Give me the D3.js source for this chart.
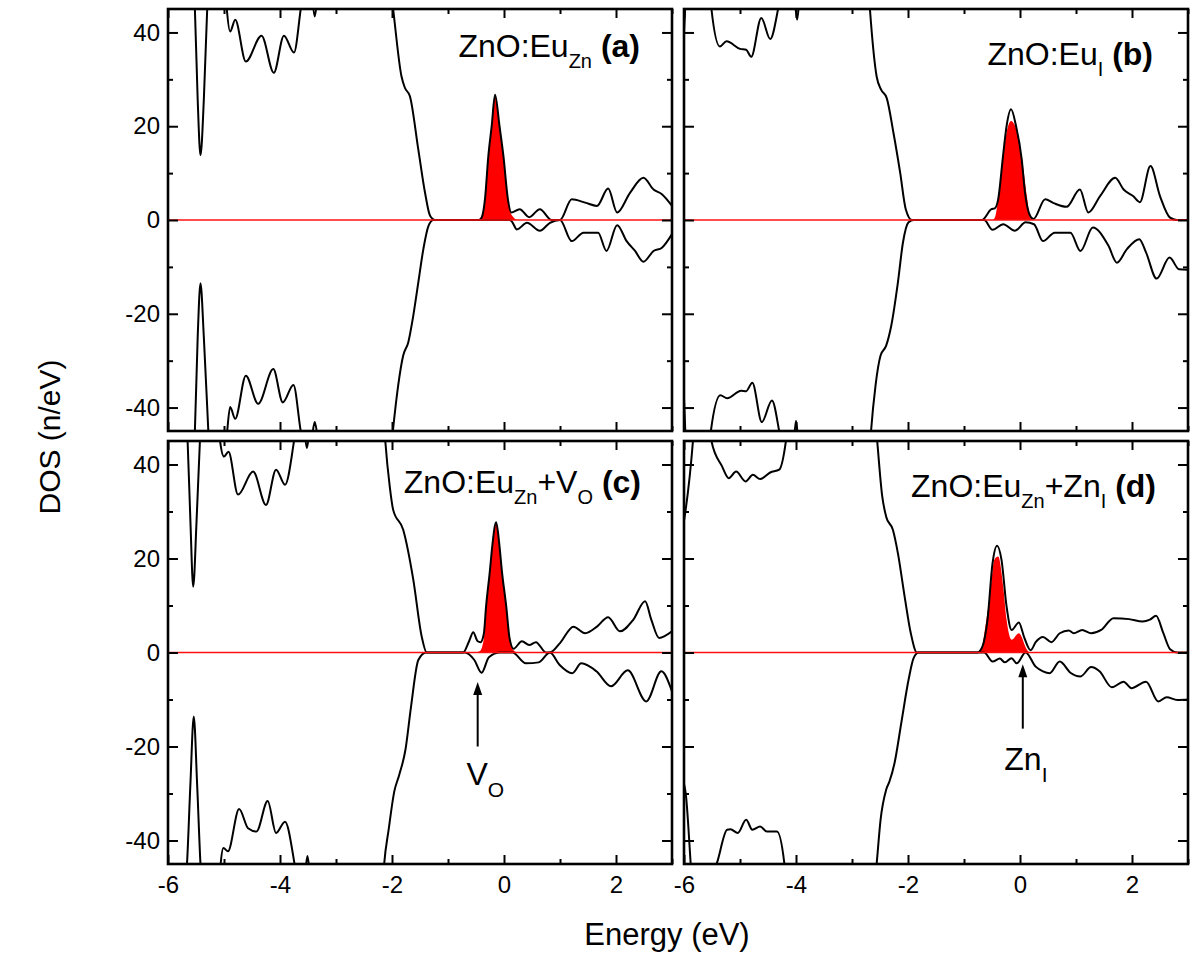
<!DOCTYPE html>
<html><head><meta charset="utf-8">
<script src="https://cdn.jsdelivr.net/npm/d3@7"></script>
<style>
body{margin:0;background:#fff}
text{font-family:"Liberation Sans",Arial,sans-serif;fill:#000}
</style>
</head><body>
<svg id="chart" width="1200" height="960"></svg>
<script>
// ---------- data ----------
const xMajorTicks = [-6, -4, -2, 0, 2];
const xMinorTicks = [-5, -3, -1, 1, 3];
const yMajorTicks = [-40, -20, 0, 20, 40];
const yMinorTicks = [-30, -10, 10, 30];
const xDomain = [-6, 3];
const yDomain = [-45, 45];
const xTitle = "Energy (eV)";
const yTitle = "DOS (n/eV)";

// panel (a) ZnO:Eu_Zn
const aUp = [[-6,60],[-5.6,60],[-5.55,52],[-5.52,45],[-5.47,25.7],[-5.42,13.8],[-5.36,25.7],[-5.30,45],[-5.27,52],[-5.1,60],[-4.98,50],[-4.95,45],[-4.89,40.2],[-4.80,42.7],[-4.61,33.8],[-4.33,39.3],[-4.11,31.4],[-3.93,39.3],[-3.75,35.7],[-3.63,45],[-3.55,52],[-3.45,50],[-3.38,43.4],[-3.31,50],[-3.1,60],[-2.2,60],[-2.05,52],[-1.98,45],[-1.83,30.6],[-1.77,28.2],[-1.68,26.4],[-1.53,15.0],[-1.41,5.8],[-1.32,0.9],[-1.23,0],[-0.45,0],[-0.40,0.5],[-0.34,4.4],[-0.28,13.6],[-0.22,20],[-0.16,26.7],[-0.08,20],[-0.01,13.6],[0.07,4.4],[0.13,1.6],[0.28,2.3],[0.45,0.6],[0.64,2.3],[0.85,0],[1.0,0],[1.21,4.4],[1.45,3.7],[1.66,3.0],[1.86,6.7],[2.02,1.6],[2.25,5.8],[2.49,9.0],[2.67,6.5],[2.82,5.5],[3.0,3.0]];
const aDown = [[-6,-60],[-5.6,-60],[-5.55,-52],[-5.52,-45],[-5.47,-25],[-5.42,-13.5],[-5.36,-25],[-5.28,-45],[-5.25,-52],[-5.1,-60],[-4.98,-50],[-4.95,-46],[-4.89,-39.9],[-4.80,-42.4],[-4.61,-33.2],[-4.39,-39.2],[-4.12,-31.8],[-3.95,-38.9],[-3.76,-35.2],[-3.63,-45],[-3.55,-50],[-3.45,-48],[-3.38,-43.1],[-3.31,-48],[-3.0,-60],[-2.1,-60],[-1.98,-44.5],[-1.89,-35.3],[-1.80,-28.9],[-1.71,-26.1],[-1.62,-20.4],[-1.53,-13.3],[-1.44,-6.2],[-1.35,-1.3],[-1.26,0],[0.1,0],[0.14,-0.3],[0.23,-2.0],[0.41,-0.6],[0.64,-2.3],[0.82,-0.6],[1.0,0],[1.21,-4.5],[1.42,-2.7],[1.68,-2.7],[1.83,-6.6],[2.02,-1.1],[2.19,-4.5],[2.34,-6.6],[2.49,-8.9],[2.67,-6.6],[2.82,-5.9],[3.0,-3.0]];
const aEu = [[-6,0],[-0.50,0],[-0.43,0.3],[-0.34,4.4],[-0.28,13.6],[-0.22,20],[-0.16,26.7],[-0.08,20],[-0.01,13.6],[0.07,4.4],[0.14,1],[0.25,0],[3,0]];

// panel (b) ZnO:Eu_I
const bUp = [[-6,40],[-5.96,50],[-5.9,60],[-5.6,60],[-5.51,45],[-5.36,37.0],[-5.24,38.1],[-5.0,36.5],[-4.89,36.3],[-4.80,34.8],[-4.62,43.1],[-4.46,38.6],[-4.32,45],[-4.22,52],[-4.05,50],[-3.98,42.7],[-3.92,50],[-3.8,60],[-2.9,60],[-2.72,52],[-2.68,45],[-2.56,30.6],[-2.48,27.8],[-2.38,26.0],[-2.26,18.6],[-2.14,10.1],[-2.04,2.3],[-1.93,0],[-0.68,0],[-0.51,2.3],[-0.45,2.5],[-0.39,4.4],[-0.30,14],[-0.24,20],[-0.16,23.6],[-0.07,20],[0.03,13],[0.09,5.8],[0.18,0.9],[0.24,0.2],[0.45,4.4],[0.60,3.6],[0.83,2.8],[1.07,6.5],[1.22,1.6],[1.43,5.1],[1.70,9.0],[1.85,6.5],[2.02,5.1],[2.14,3.8],[2.33,11.5],[2.5,5.1],[2.68,0.5],[2.80,0],[3.0,0]];
const bDown = [[-6,-38],[-5.96,-50],[-5.9,-60],[-5.6,-60],[-5.52,-45],[-5.35,-37.4],[-5.23,-38.0],[-4.98,-36.4],[-4.89,-36.5],[-4.78,-34.7],[-4.61,-43.1],[-4.43,-38.5],[-4.30,-45],[-4.2,-52],[-4.06,-50],[-4.0,-42.8],[-3.94,-50],[-3.8,-60],[-2.9,-60],[-2.7,-52],[-2.66,-45],[-2.58,-35.3],[-2.49,-28.9],[-2.39,-26.8],[-2.30,-22.6],[-2.18,-13.3],[-2.09,-4.8],[-1.99,-0.5],[-1.90,0],[-0.64,0],[-0.49,-2.1],[-0.30,-0.9],[-0.09,-2.3],[0.10,-0.5],[0.25,-0.9],[0.41,-4.5],[0.62,-2.7],[0.90,-2.7],[1.08,-6.6],[1.30,-1.6],[1.58,-5.5],[1.73,-9.1],[1.91,-6.2],[2.13,-4.1],[2.25,-6.9],[2.44,-12.5],[2.67,-8.0],[2.84,-10.5],[3.0,-10.6]];
const bEu = [[-6,0],[-0.50,0],[-0.45,0.5],[-0.39,4.4],[-0.30,13.6],[-0.24,18.6],[-0.16,21.1],[-0.05,18.6],[0.03,13.6],[0.13,4.4],[0.18,0.5],[0.24,0],[3,0]];

// panel (c) ZnO:Eu_Zn + V_O
const cUp = [[-6,60],[-5.75,60],[-5.68,52],[-5.65,45],[-5.60,28],[-5.55,14.0],[-5.49,28],[-5.43,45],[-5.40,52],[-5.2,60],[-5.1,50],[-5.07,45],[-5.0,41.7],[-4.92,42.7],[-4.75,33.6],[-4.48,38.5],[-4.25,31.4],[-4.07,38.9],[-3.91,35.7],[-3.75,45],[-3.67,52],[-3.58,49],[-3.52,43.5],[-3.46,49],[-3.3,60],[-2.3,60],[-2.16,52],[-2.12,45],[-2.04,35.3],[-1.98,30.4],[-1.80,26.1],[-1.62,15.5],[-1.47,3.4],[-1.38,0],[-0.73,0],[-0.62,2.5],[-0.55,4.3],[-0.47,2.4],[-0.42,2.2],[-0.36,4],[-0.32,9.8],[-0.25,17.6],[-0.21,22.6],[-0.14,27.7],[-0.08,22.6],[-0.04,17.6],[0.04,9.8],[0.10,3],[0.17,0.8],[0.32,2.4],[0.45,1.6],[0.57,2.2],[0.75,0],[0.82,0],[1.0,2.0],[1.24,5.5],[1.45,4.1],[1.66,5.5],[1.86,7.5],[2.07,4.5],[2.31,7.0],[2.52,10.9],[2.63,7.0],[2.77,3.1],[3.0,4.5]];
const cDown = [[-6,-60],[-5.75,-60],[-5.69,-50],[-5.66,-44.8],[-5.60,-28],[-5.54,-13.6],[-5.48,-28],[-5.42,-45],[-5.38,-52],[-5.2,-60],[-5.09,-50],[-5.06,-45],[-5.01,-41.6],[-4.93,-42.3],[-4.73,-33.3],[-4.57,-37.4],[-4.42,-38.1],[-4.22,-31.6],[-4.07,-38.4],[-3.91,-36.0],[-3.74,-45],[-3.65,-52],[-3.56,-48],[-3.51,-43.3],[-3.46,-48],[-3.3,-60],[-2.3,-60],[-2.18,-52],[-2.14,-45],[-2.06,-37.7],[-1.96,-29.6],[-1.87,-26.0],[-1.76,-20.7],[-1.66,-11.5],[-1.53,-1.6],[-1.39,0],[-0.70,0],[-0.53,-1.6],[-0.40,-4.3],[-0.27,-1.0],[-0.07,0],[0.15,0],[0.39,-2.3],[0.62,-2.1],[0.82,0],[0.99,-2.6],[1.22,-4.4],[1.38,-2.3],[1.65,-4.0],[1.91,-7.2],[2.21,-3.8],[2.54,-10.4],[2.81,-4.0],[3.0,-8.3]];
const cEu = [[-6,0],[-0.50,0],[-0.43,0.3],[-0.36,3],[-0.32,9.8],[-0.25,17.6],[-0.21,22.6],[-0.14,27.7],[-0.08,22.6],[-0.04,17.6],[0.04,9.8],[0.10,3],[0.17,0.5],[0.25,0],[3,0]];

// panel (d) ZnO:Eu_Zn + Zn_I
const dUp = [[-6,28],[-5.97,30.4],[-5.84,45],[-5.78,55],[-5.6,58],[-5.51,45],[-5.32,39.6],[-5.20,37.1],[-5.07,38.5],[-4.90,36.4],[-4.77,37.8],[-4.64,36.9],[-4.46,38.3],[-4.30,38.9],[-4.18,45],[-4.13,50],[-4.09,45],[-4.03,50],[-3.9,60],[-2.75,60],[-2.6,52],[-2.55,45],[-2.46,33.2],[-2.39,28.9],[-2.27,26.1],[-2.18,21.1],[-2.06,11.9],[-1.95,4.1],[-1.84,0],[-0.76,0],[-0.67,1.3],[-0.58,7.0],[-0.49,19.0],[-0.41,22.7],[-0.33,19.7],[-0.24,9.8],[-0.15,4.8],[-0.02,6.4],[0.07,3.4],[0.19,0.5],[0.28,2.2],[0.41,3.3],[0.56,2.2],[0.71,4.1],[0.87,4.7],[0.96,4.1],[1.11,4.8],[1.27,4.1],[1.45,4.8],[1.67,7.3],[1.95,7.1],[2.19,6.6],[2.32,7.0],[2.43,7.8],[2.56,4.1],[2.68,0.7],[2.81,0],[3.0,0]];
const dDown = [[-6,-28],[-5.97,-29.9],[-5.88,-45],[-5.84,-52],[-5.6,-55],[-5.45,-46],[-5.41,-44.7],[-5.23,-37.7],[-5.17,-37.6],[-5.04,-38.4],[-4.89,-35.6],[-4.78,-37.7],[-4.64,-37.0],[-4.52,-38.1],[-4.34,-38.1],[-4.21,-44.7],[-4.15,-52],[-3.9,-60],[-2.75,-60],[-2.6,-50],[-2.56,-45],[-2.49,-35.6],[-2.39,-29.2],[-2.33,-27.4],[-2.24,-23.5],[-2.12,-15.0],[-1.99,-5.8],[-1.90,-1.2],[-1.81,0],[-0.64,0],[-0.49,-1.9],[-0.36,-1.3],[-0.27,-2.1],[-0.15,-1.2],[-0.06,-2.3],[0.10,0],[0.28,-3.0],[0.41,-4.0],[0.53,-4.4],[0.71,-1.9],[0.90,-4.3],[1.08,-5.1],[1.27,-3.1],[1.42,-4.0],[1.64,-7.4],[1.85,-6.2],[1.99,-7.6],[2.25,-6.2],[2.47,-10.4],[2.62,-9.5],[2.81,-10.1],[3.0,-10.0]];
const dEu = [[-6,0],[-0.76,0],[-0.70,0.5],[-0.60,7.0],[-0.52,14],[-0.46,19.7],[-0.39,20.4],[-0.30,14],[-0.24,7.0],[-0.15,2.7],[-0.02,4.1],[0.13,0.5],[0.19,0],[3,0]];

// panel labels: [text, style] (n = normal, s = subscript, b = bold)
const labelA = [["ZnO:Eu","n"],["Zn","s"],[" (a)","b"]];
const labelB = [["ZnO:Eu","n"],["I","s"],[" (b)","b"]];
const labelC = [["ZnO:Eu","n"],["Zn","s"],["+V","n"],["O","s"],[" (c)","b"]];
const labelD = [["ZnO:Eu","n"],["Zn","s"],["+Zn","n"],["I","s"],[" (d)","b"]];

// annotations: arrow energy, tail DOS, head DOS
const arrowVO = {E: -0.47, tail: -20, head: -6.3, text: [["V","n"],["O","s"]], tE: -0.67, tDOS: -28.2};
const arrowZnI = {E: 0.05, tail: -16.2, head: -2.5, text: [["Zn","n"],["I","s"]], tE: -0.28, tDOS: -25};

// ---------- layout ----------
const svg = d3.select("#chart");
const L = {x0:168, x1:672}, R = {x0:684, x1:1188};
const T = {y0:9, y1:431}, B = {y0:441, y1:864};

const panels = [
  {id:"a", up:aUp, down:aDown, eu:aEu, h:L, v:T, yLab:true,  xLab:false, label:labelA, lx:640, ly:57},
  {id:"b", up:bUp, down:bDown, eu:bEu, h:R, v:T, yLab:false, xLab:false, label:labelB, lx:1153, ly:65},
  {id:"c", up:cUp, down:cDown, eu:cEu, h:L, v:B, yLab:true,  xLab:true,  label:labelC, lx:641, ly:493, arrow:arrowVO},
  {id:"d", up:dUp, down:dDown, eu:dEu, h:R, v:B, yLab:false, xLab:true,  label:labelD, lx:1156, ly:497, arrow:arrowZnI}
];

function richText(sel, parts, big, sub, subDy){
  let shifted = false;
  parts.forEach(([t, s]) => {
    const ts = sel.append("tspan").text(t);
    if (s === "s") {
      ts.attr("font-size", sub).attr("dy", subDy); shifted = true;
    } else {
      ts.attr("font-size", big);
      if (shifted) { ts.attr("dy", -subDy); shifted = false; }
      if (s === "b") ts.attr("font-weight", "bold");
    }
  });
}

panels.forEach(p => {
  const x = d3.scaleLinear().domain(xDomain).range([p.h.x0, p.h.x1]);
  const y = d3.scaleLinear().domain(yDomain).range([p.v.y1, p.v.y0]);
  const g = svg.append("g");
  const clipId = "clip-" + p.id;
  svg.append("clipPath").attr("id", clipId).append("rect")
    .attr("x", p.h.x0).attr("y", p.v.y0)
    .attr("width", p.h.x1 - p.h.x0).attr("height", p.v.y1 - p.v.y0);
  const plot = g.append("g").attr("clip-path", `url(#${clipId})`);

  const area = d3.area().x(d => x(d[0])).y0(y(0)).y1(d => y(d[1])).curve(d3.curveMonotoneX);
  const line = d3.line().x(d => x(d[0])).y(d => y(d[1])).curve(d3.curveMonotoneX);

  plot.append("path").datum(p.eu).attr("d", area).attr("fill", "#ff0000");
  plot.append("path").datum(p.up).attr("d", line).attr("fill", "none").attr("stroke", "#000").attr("stroke-width", 2);
  plot.append("path").datum(p.down).attr("d", line).attr("fill", "none").attr("stroke", "#000").attr("stroke-width", 2);
  plot.append("line").attr("x1", x(xDomain[0])).attr("x2", x(xDomain[1]))
    .attr("y1", y(0)).attr("y2", y(0)).attr("stroke", "#ff1010").attr("stroke-width", 1.4);

  // axes (inward ticks)
  const fmt = d => d3.format("d")(d).replace("−", "-");
  const ax = [];
  ax.push(g.append("g").attr("transform", `translate(0,${p.v.y1})`)
    .call(d3.axisBottom(x).tickValues(xMajorTicks).tickSizeInner(-9).tickSizeOuter(0).tickPadding(12)
      .tickFormat(p.xLab ? fmt : () => "")));
  ax.push(g.append("g").attr("transform", `translate(0,${p.v.y1})`)
    .call(d3.axisBottom(x).tickValues(xMinorTicks).tickSizeInner(-5).tickSizeOuter(0).tickFormat(() => "")));
  ax.push(g.append("g").attr("transform", `translate(0,${p.v.y0})`)
    .call(d3.axisTop(x).tickValues(xMajorTicks).tickSizeInner(-9).tickSizeOuter(0).tickFormat(() => "")));
  ax.push(g.append("g").attr("transform", `translate(0,${p.v.y0})`)
    .call(d3.axisTop(x).tickValues(xMinorTicks).tickSizeInner(-5).tickSizeOuter(0).tickFormat(() => "")));
  ax.push(g.append("g").attr("transform", `translate(${p.h.x0},0)`)
    .call(d3.axisLeft(y).tickValues(yMajorTicks).tickSizeInner(-10).tickSizeOuter(0).tickPadding(8)
      .tickFormat(p.yLab ? fmt : () => "")));
  ax.push(g.append("g").attr("transform", `translate(${p.h.x0},0)`)
    .call(d3.axisLeft(y).tickValues(yMinorTicks).tickSizeInner(-5).tickSizeOuter(0).tickFormat(() => "")));
  ax.push(g.append("g").attr("transform", `translate(${p.h.x1},0)`)
    .call(d3.axisRight(y).tickValues(yMajorTicks).tickSizeInner(-10).tickSizeOuter(0).tickFormat(() => "")));
  ax.push(g.append("g").attr("transform", `translate(${p.h.x1},0)`)
    .call(d3.axisRight(y).tickValues(yMinorTicks).tickSizeInner(-5).tickSizeOuter(0).tickFormat(() => "")));
  ax.forEach(a => {
    a.select(".domain").remove();
    a.selectAll(".tick line").attr("stroke", "#000").attr("stroke-width", 2);
    a.selectAll(".tick text").attr("font-size", 24).attr("font-family", "Liberation Sans, Arial, sans-serif").attr("fill", "#000");
  });

  // frame
  g.append("rect").attr("x", p.h.x0).attr("y", p.v.y0)
    .attr("width", p.h.x1 - p.h.x0).attr("height", p.v.y1 - p.v.y0)
    .attr("fill", "none").attr("stroke", "#000").attr("stroke-width", 2.6);

  // panel label
  const t = g.append("text").attr("x", p.lx).attr("y", p.ly).attr("text-anchor", "end");
  richText(t, p.label, 32, 20, 11);

  // arrow annotation
  if (p.arrow) {
    const a = p.arrow;
    const ax0 = x(a.E), yt = y(a.tail), yh = y(a.head);
    g.append("line").attr("x1", ax0).attr("x2", ax0).attr("y1", yt).attr("y2", yh + 10)
      .attr("stroke", "#000").attr("stroke-width", 2);
    g.append("path").attr("d", `M${ax0},${yh} L${ax0-4.5},${yh+13} L${ax0+4.5},${yh+13} Z`).attr("fill", "#000");
    const at = g.append("text").attr("x", x(a.tE)).attr("y", y(a.tDOS));
    richText(at, a.text, 32, 21, 12);
  }
});

// axis titles
svg.append("text").attr("x", 667).attr("y", 945).attr("text-anchor", "middle")
  .attr("font-size", 31).text(xTitle);
svg.append("text").attr("transform", "translate(60,437) rotate(-90)").attr("text-anchor", "middle")
  .attr("font-size", 30).text(yTitle);
</script>
</body></html>
